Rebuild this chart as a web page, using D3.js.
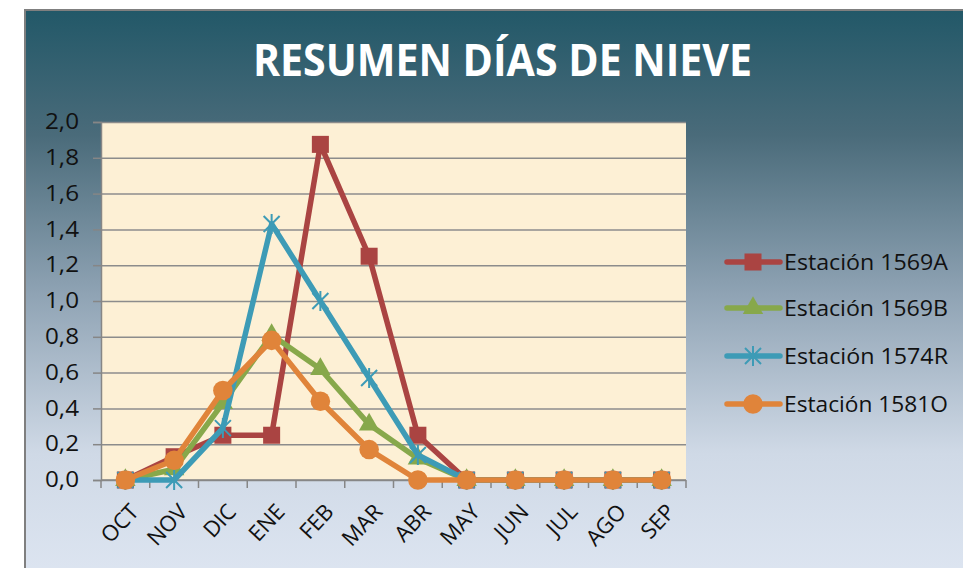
<!DOCTYPE html>
<html>
<head>
<meta charset="utf-8">
<script src="https://cdn.jsdelivr.net/npm/d3@7"></script>
<style>
  body { margin: 0; background: #fff; }
  svg text { font-family: "Open Sans", sans-serif; }
</style>
</head>
<body>
<div id="chart"></div>
<script>
// data
const months = ['OCT', 'NOV', 'DIC', 'ENE', 'FEB', 'MAR', 'ABR', 'MAY', 'JUN', 'JUL', 'AGO', 'SEP']
const est1569A = [0, 0.13, 0.25, 0.25, 1.875, 1.25, 0.25, 0, 0, 0, 0, 0]
const est1569B = [0, 0.06, 0.43, 0.81, 0.62, 0.31, 0.12, 0, 0, 0, 0, 0]
const est1574R = [0, 0, 0.29, 1.43, 1.0, 0.57, 0.14, 0, 0, 0, 0, 0]
const est1581O = [0, 0.11, 0.5, 0.78, 0.44, 0.17, 0, 0, 0, 0, 0, 0]
const seriesNames = ['Estación 1569A', 'Estación 1569B', 'Estación 1574R', 'Estación 1581O']
const yTicks = [0, 0.2, 0.4, 0.6, 0.8, 1.0, 1.2, 1.4, 1.6, 1.8, 2.0]

const series = [
    { name: seriesNames[0], values: est1569A, color: '#aa4442', marker: 'square' },
    { name: seriesNames[1], values: est1569B, color: '#87a84b', marker: 'triangle' },
    { name: seriesNames[2], values: est1574R, color: '#3d9bb6', marker: 'star' },
    { name: seriesNames[3], values: est1581O, color: '#e0843a', marker: 'circle' }
]

const width = 963
const height = 568
const plot = { left: 101, top: 122, right: 686, bottom: 480 }

const svg = d3.select('#chart')
    .append('svg')
    .attr('width', width)
    .attr('height', height)

const defs = svg.append('defs')
const bg = defs.append('linearGradient')
    .attr('id', 'bg')
    .attr('x1', 0).attr('y1', 0).attr('x2', 0).attr('y2', 1)
bg.append('stop').attr('offset', '0%').attr('stop-color', '#225868')
bg.append('stop').attr('offset', '22%').attr('stop-color', '#4a6b7a')
bg.append('stop').attr('offset', '50%').attr('stop-color', '#8fa3b4')
bg.append('stop').attr('offset', '78%').attr('stop-color', '#cfd9e6')
bg.append('stop').attr('offset', '100%').attr('stop-color', '#dde5f1')

// chart frame
svg.append('rect')
    .attr('x', 25)
    .attr('y', 10)
    .attr('width', width)
    .attr('height', height)
    .attr('fill', 'url(#bg)')
    .attr('stroke', '#7f7f7f')
    .attr('stroke-width', 2)

// title
svg.append('text')
    .text('RESUMEN DÍAS DE NIEVE')
    .attr('x', 253)
    .attr('y', 76)
    .attr('textLength', 499)
    .attr('lengthAdjust', 'spacingAndGlyphs')
    .attr('font-size', 44)
    .attr('font-weight', 'bold')
    .attr('fill', '#fff')

// scales
const xScale = d3.scaleBand()
    .domain(months)
    .range([plot.left, plot.right])
    .padding(0)

const yScale = d3.scaleLinear()
    .domain([0, 2])
    .range([plot.bottom, plot.top])

const cx = (m) => xScale(m) + xScale.bandwidth() / 2

// plot area
svg.append('rect')
    .attr('x', plot.left)
    .attr('y', plot.top)
    .attr('width', plot.right - plot.left)
    .attr('height', plot.bottom - plot.top)
    .attr('fill', '#fdf0d5')

// gridlines
svg.append('g')
    .attr('transform', `translate(${plot.left}, 0)`)
    .call(d3.axisLeft(yScale).tickValues(yTicks).tickSize(-(plot.right - plot.left)).tickFormat(''))
    .call(g => g.select('.domain').remove())
    .call(g => g.selectAll('line').attr('stroke', '#8c8c8c').attr('stroke-width', 1.5))

// y axis
svg.append('g')
    .attr('id', 'y-axis')
    .attr('transform', `translate(${plot.left}, 0)`)
    .call(d3.axisLeft(yScale)
        .tickValues(yTicks)
        .tickSize(8)
        .tickPadding(14)
        .tickFormat(d => d.toFixed(1).replace('.', ',')))
    .call(g => g.select('.domain').attr('stroke', '#868686').attr('stroke-width', 1.5))
    .call(g => g.selectAll('line').attr('stroke', '#868686').attr('stroke-width', 1.5))
    .call(g => g.selectAll('text')
        .attr('font-size', 21)
        .attr('fill', '#111')
        .attr('textLength', 34)
        .attr('lengthAdjust', 'spacingAndGlyphs'))

// x axis line and ticks between categories
const xAxis = svg.append('g').attr('id', 'x-axis')
xAxis.append('line')
    .attr('x1', plot.left)
    .attr('x2', plot.right)
    .attr('y1', yScale(0))
    .attr('y2', yScale(0))
    .attr('stroke', '#868686')
    .attr('stroke-width', 1.5)

xAxis.selectAll('.xtick')
    .data(months.map(m => xScale(m)).concat([plot.right]))
    .enter()
    .append('line')
    .attr('class', 'xtick')
    .attr('x1', d => d)
    .attr('x2', d => d)
    .attr('y1', yScale(0))
    .attr('y2', yScale(0) + 8)
    .attr('stroke', '#868686')
    .attr('stroke-width', 1.5)

xAxis.selectAll('.xlabel')
    .data(months)
    .enter()
    .append('text')
    .attr('class', 'xlabel')
    .text(d => d)
    .attr('text-anchor', 'end')
    .attr('dy', '0.72em')
    .attr('font-size', 22)
    .attr('fill', '#111')
    .attr('transform', d => `translate(${cx(d) + 3}, ${yScale(0) + 22}) rotate(-47)`)

// markers
function markerPath(type) {
    if (type === 'square') return d3.symbol(d3.symbolSquare).size(290)()
    if (type === 'triangle') return d3.symbol(d3.symbolTriangle).size(180)()
    if (type === 'circle') return d3.symbol(d3.symbolCircle).size(300)()
    const s = 8
    return `M${-s},${-s}L${s},${s}M${-s},${s}L${s},${-s}M0,${-s - 2}L0,${s + 2}`
}

function drawMarker(sel, s) {
    sel.append('path')
        .attr('d', markerPath(s.marker))
        .attr('fill', s.marker === 'star' ? 'none' : s.color)
        .attr('stroke', s.color)
        .attr('stroke-width', s.marker === 'star' ? 2 : 0)
}

const line = d3.line()
    .x((d, i) => cx(months[i]))
    .y(d => yScale(d))

series.forEach(s => {
    const g = svg.append('g')
    g.append('path')
        .datum(s.values)
        .attr('d', line)
        .attr('fill', 'none')
        .attr('stroke', s.color)
        .attr('stroke-width', 5.5)
        .attr('stroke-linejoin', 'round')
        .attr('stroke-linecap', 'round')
    g.selectAll('.pt')
        .data(s.values)
        .enter()
        .append('g')
        .attr('class', 'pt')
        .attr('transform', (d, i) => `translate(${cx(months[i])}, ${yScale(d)})`)
        .each(function () { drawMarker(d3.select(this), s) })
})

// legend
const legend = svg.append('g').attr('id', 'legend')
const legendY = [262, 308, 356, 404]
series.forEach((s, i) => {
    const row = legend.append('g').attr('transform', `translate(0, ${legendY[i]})`)
    row.append('line')
        .attr('x1', 727)
        .attr('x2', 780)
        .attr('stroke', s.color)
        .attr('stroke-width', 5.5)
        .attr('stroke-linecap', 'round')
    row.append('g')
        .attr('transform', 'translate(753, 0)')
        .call(g => drawMarker(g, s))
    row.append('text')
        .text(s.name)
        .attr('x', 784)
        .attr('dy', '0.36em')
        .attr('font-size', 21)
        .attr('fill', '#111')
        .attr('textLength', 164)
        .attr('lengthAdjust', 'spacingAndGlyphs')
})
</script>
</body>
</html>
